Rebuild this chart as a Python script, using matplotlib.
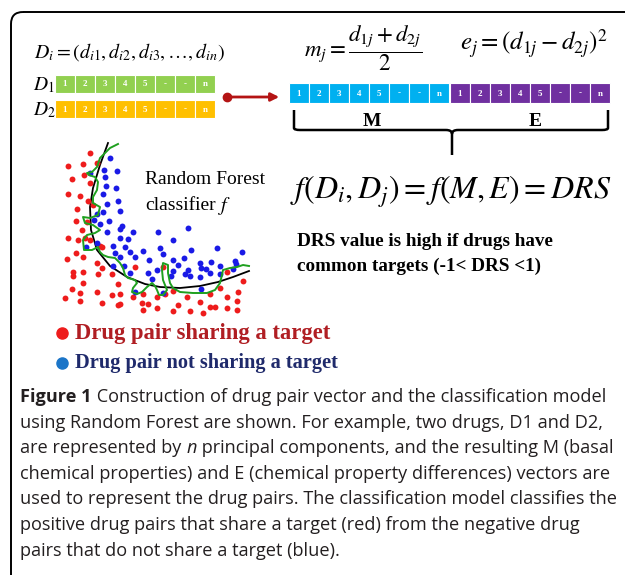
import numpy as np
import matplotlib.pyplot as plt
from matplotlib.patches import FancyBboxPatch, Rectangle
from matplotlib.path import Path
from matplotlib.patches import PathPatch

plt.rcParams['mathtext.fontset'] = 'stix'

# cell labels of the component vectors
cells = ["1", "2", "3", "4", "5", "-", "-", "n"]

# scatter of drug pairs (figure pixel coordinates)
red_x = [90, 68, 83, 97, 72, 84, 90, 68, 80, 88, 77, 93, 76, 87, 82, 68, 78, 85, 90, 100,
         76, 83, 67, 102, 97, 102, 73, 73, 83, 98, 112, 83, 72, 80, 65, 80, 97, 102, 112, 118,
         120, 120, 118, 133, 135, 143, 142, 148, 143, 157, 165, 157, 173, 173, 163, 178, 187, 190,
         200, 203, 210, 210, 215, 220, 227, 227, 227, 237, 237, 243, 238]
red_y = [153, 166, 164, 163, 179, 175, 183, 194, 196, 201, 209, 205, 221, 222, 230, 238, 240, 238,
         240, 246, 253, 257, 259, 247, 263, 268, 272, 276, 272, 274, 274, 283, 289, 293, 298, 301,
         292, 303, 295, 284, 294, 304, 305, 297, 267, 294, 303, 304, 310, 297, 294, 308, 291, 311,
         267, 305, 297, 311, 302, 313, 294, 307, 307, 288, 297, 272, 308, 310, 301, 281, 292]
blue_x = [110, 104, 117, 90, 105, 106, 116, 103, 118, 107, 103, 97, 120, 109, 94, 100, 122, 120,
          133, 107, 120, 128, 158, 188, 173, 113, 125, 86, 97, 160, 143, 115, 130, 120, 135, 163,
          191, 217, 242, 184, 149, 173, 200, 211, 235, 236, 113, 124, 178, 201, 206, 220, 233,
          157, 173, 188, 210, 185, 130, 148, 200, 171, 152, 190, 220, 135, 163, 201]
blue_y = [158, 170, 171, 173, 177, 186, 188, 194, 201, 204, 212, 214, 211, 221, 220, 224, 226,
          229, 232, 232, 238, 239, 232, 228, 240, 246, 247, 247, 243, 248, 251, 253, 252, 257, 257,
          254, 250, 248, 252, 258, 260, 260, 263, 262, 261, 264, 266, 266, 265, 268, 269, 266, 269,
          270, 271, 270, 273, 274, 273, 273, 277, 276, 279, 276, 274, 292, 293, 289]

# decision boundaries
smooth_x = [108, 100, 93, 90, 91, 97, 110, 127, 145, 160, 180, 200, 218, 233, 249]
smooth_y = [143, 165, 188, 207, 230, 250, 266, 277, 284, 287, 288, 286, 282, 277, 271]
wiggle_x = [118, 110, 100, 97, 92, 87, 89, 95, 98, 97, 93, 93, 100, 98, 90, 83, 85, 93, 100, 95,
            87, 83, 84, 92, 98, 100, 103, 108, 115, 120, 123, 125, 128, 135, 137, 133, 132, 137,
            142, 147, 152, 155, 157, 159, 163, 167, 163, 162, 163, 168, 168, 170, 173, 180, 193,
            207, 215, 220, 222, 223, 230, 237, 243, 249]
wiggle_y = [144, 148, 158, 167, 172, 173, 175, 177, 182, 190, 197, 203, 207, 215, 218, 217, 223,
            225, 230, 233, 235, 240, 250, 250, 247, 252, 255, 257, 258, 263, 268, 275, 278, 280,
            283, 288, 292, 294, 292, 287, 283, 286, 290, 295, 295, 290, 280, 270, 263, 265, 273,
            283, 288, 292, 293, 293, 290, 283, 275, 270, 268, 267, 265, 266]

# caption, split into (text, style) pieces per line
caption_lines = [
    [("Figure 1", "bold"), (" Construction of drug pair vector and the classification model", "normal")],
    [("using Random Forest are shown. For example, two drugs, D1 and D2,", "normal")],
    [("are represented by ", "normal"), ("n", "italic"),
     (" principal components, and the resulting M (basal", "normal")],
    [("chemical properties) and E (chemical property differences) vectors are", "normal")],
    [("used to represent the drug pairs. The classification model classifies the", "normal")],
    [("positive drug pairs that share a target (red) from the negative drug", "normal")],
    [("pairs that do not share a target (blue).", "normal")],
]

fig = plt.figure(figsize=(6.25, 5.75), dpi=100)
ax = fig.add_axes([0, 0, 1, 1])
ax.set_xlim(0, 625)
ax.set_ylim(575, 0)
ax.axis("off")

ax.add_patch(FancyBboxPatch((11, 12), 650, 600, boxstyle="round,pad=0,rounding_size=12",
                            fc="none", ec="black", lw=1.4))

serif = "Liberation Serif"


def vector_row(x0, y0, w, h, color):
    for i, c in enumerate(cells):
        ax.add_patch(Rectangle((x0 + i * w, y0), w, h, fc=color, ec="white", lw=0.8))
        ax.text(x0 + i * w + w / 2, y0 + h / 2 + 0.5, c, color="white", fontsize=6.5,
                family=serif, fontweight="bold", ha="center", va="center")


# top-left: D_i definition and two drug vectors
ax.text(34, 52, r"$D_i = (d_{i1}, d_{i2}, d_{i3}, \ldots, d_{in})$", fontsize=14.3,
        ha="left", va="center")
ax.text(33, 85, r"$D_1$", fontsize=14, ha="left", va="center")
ax.text(33, 110, r"$D_2$", fontsize=14, ha="left", va="center")
vector_row(55, 75, 20, 18, "#92D050")
vector_row(55, 100, 20, 18, "#FFC000")

ax.plot([227], [97], "o", color="#B41414", ms=6)
ax.annotate("", xy=(282, 97), xytext=(227, 97),
            arrowprops=dict(arrowstyle="-|>", color="#B41414", lw=2, mutation_scale=12))

# top-right: M and E vectors
ax.text(304, 48, r"$m_j = \dfrac{d_{1j} + d_{2j}}{2}$", fontsize=16.5, ha="left", va="center")
ax.text(460, 44, r"$e_j = \left(d_{1j} - d_{2j}\right)^2$", fontsize=18, ha="left", va="center")
vector_row(289, 83, 20, 20, "#00B0F0")
vector_row(450, 83, 20, 20, "#7030A0")
ax.text(372, 121, "M", fontsize=14, family=serif, fontweight="bold", ha="center", va="center")
ax.text(535, 121, "E", fontsize=14, family=serif, fontweight="bold", ha="center", va="center")

brace = Path([(294, 110), (294, 128), (294, 130), (300, 130),
              (446, 130), (452, 130), (452, 134), (452, 155),
              (452, 134), (452, 130), (458, 130),
              (602, 130), (608, 130), (608, 128), (608, 110)],
             [Path.MOVETO, Path.LINETO, Path.CURVE3, Path.CURVE3,
              Path.LINETO, Path.CURVE3, Path.CURVE3, Path.LINETO,
              Path.MOVETO, Path.CURVE3, Path.CURVE3,
              Path.LINETO, Path.CURVE3, Path.CURVE3, Path.LINETO])
ax.add_patch(PathPatch(brace, fc="none", ec="black", lw=1.8))

ax.text(290, 192, r"$f(D_i,D_j) = f(M,E) = DRS$", fontsize=23, ha="left", va="center")
ax.text(297, 242, "DRS value is high if drugs have", fontsize=13.8, family=serif,
        fontweight="bold", ha="left", va="center")
ax.text(297, 266, "common targets (-1< DRS <1)", fontsize=13.8, family=serif,
        fontweight="bold", ha="left", va="center")

# scatter with classifier boundaries
ax.scatter(red_x, red_y, s=18, color="#EE1C1C", zorder=3, linewidths=0)
ax.scatter(blue_x, blue_y, s=18, color="#1A1AE6", zorder=3, linewidths=0)
ax.plot(smooth_x, smooth_y, color="black", lw=1.3, zorder=2)
ax.plot(wiggle_x, wiggle_y, color="#1FA01F", lw=1.4, zorder=4)
ax.text(145, 180, "Random Forest", fontsize=14, family=serif, ha="left", va="center")
ax.text(145, 206, "classifier", fontsize=14, family=serif, ha="left", va="center")
ax.text(218, 206, r"$f$", fontsize=14.5, ha="left", va="center")

ax.plot([62], [333], "o", color="#EE1C1C", ms=8)
ax.text(75, 333, "Drug pair sharing a target", fontsize=16.3, family=serif,
        fontweight="bold", color="#B01E23", ha="left", va="center")
ax.plot([62], [363], "o", color="#1B75C8", ms=8)
ax.text(75, 363, "Drug pair not sharing a target", fontsize=14.7, family=serif,
        fontweight="bold", color="#1F2A6B", ha="left", va="center")

# caption
cap = "Open Sans"
for k, pieces in enumerate(caption_lines):
    prev = None
    for s, style in pieces:
        kw = dict(fontsize=13.1, family=cap, color="#231F20", ha="left",
                  fontweight="bold" if style == "bold" else "normal",
                  fontstyle="italic" if style == "italic" else "normal")
        if prev is None:
            prev = ax.text(20, 397 + 25.6 * k, s, va="center", **kw)
        else:
            prev = ax.annotate(s, xy=(1, 0), xycoords=prev, va="bottom", **kw)

fig.savefig("out.png", dpi=100)
